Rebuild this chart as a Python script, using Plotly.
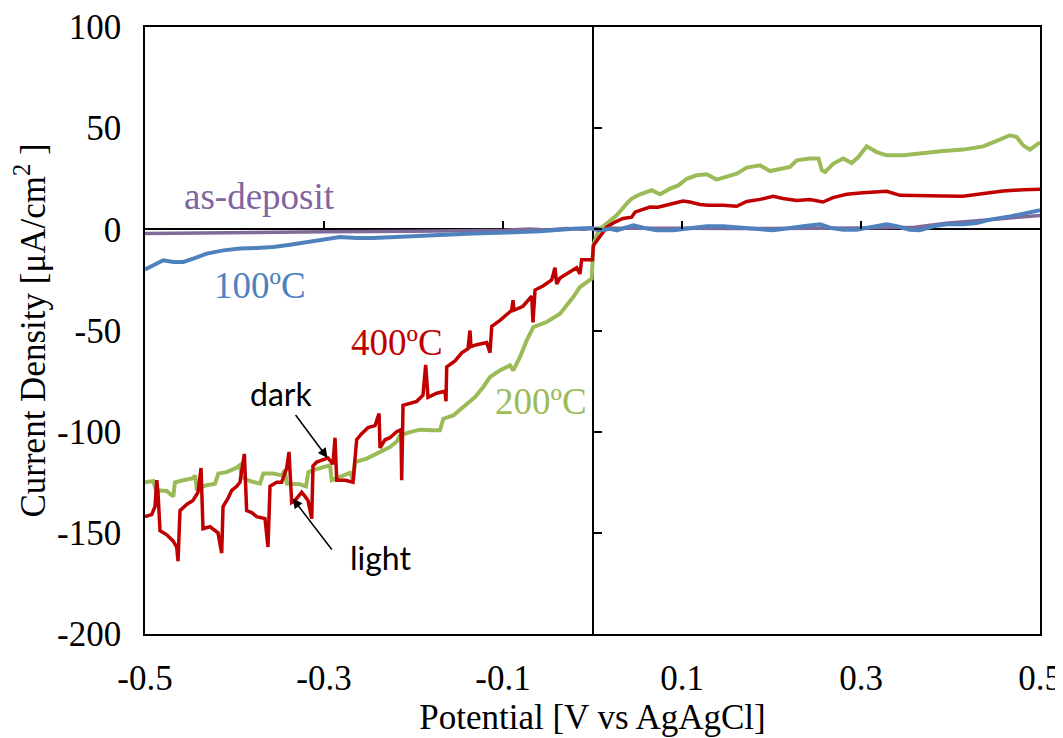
import plotly.graph_objects as go

# ---- data (Potential V vs Ag/AgCl, Current density uA/cm2) ----
red_x = [-0.5000,-0.4925,-0.4888,-0.4869,-0.4855,-0.4832,-0.4757,-0.4687,-0.4646,-0.4631,
         -0.4609,-0.4534,-0.4464,-0.4408,-0.4374,-0.4352,-0.4274,-0.4218,-0.4184,-0.4143,
         -0.4128,-0.4073,-0.4031,-0.3975,-0.3939,-0.3890,-0.3864,-0.3808,-0.3752,-0.3659,
         -0.3626,-0.3603,-0.3528,-0.3473,-0.3417,-0.3391,-0.3361,-0.3324,-0.3291,-0.3249,
         -0.3212,-0.3179,-0.3137,-0.3123,-0.3082,-0.3011,-0.2955,-0.2900,-0.2877,-0.2858,
         -0.2760,-0.2676,-0.2635,-0.2579,-0.2508,-0.2430,-0.2385,-0.2374,-0.2318,-0.2263,
         -0.2188,-0.2140,-0.2132,-0.2117,-0.2020,-0.1964,-0.1894,-0.1864,-0.1838,-0.1741,
         -0.1648,-0.1637,-0.1629,-0.1536,-0.1461,-0.1391,-0.1369,-0.1358,-0.1294,-0.1182,
         -0.1145,-0.1126,-0.1034,-0.0959,-0.0903,-0.0888,-0.0877,-0.0777,-0.0679,-0.0665,
         -0.0642,-0.0553,-0.0456,-0.0419,-0.0400,-0.0363,-0.0251,-0.0177,-0.0140,-0.0121,
         -0.0028,0.0000,
         0.0010,0.0103,0.0159,0.0251,0.0341,0.0438,0.0475,0.0531,0.0642,0.0732,0.0899,
         0.1011,0.1089,0.1201,0.1291,0.1458,0.1611,0.1723,0.1872,0.2017,0.2128,0.2282,
         0.2430,0.2575,0.2687,0.2840,0.3022,0.3287,0.3436,0.3659,0.3916,0.4140,0.4363,
         0.4587,0.4810,0.5000]
red_y = [-142,-141,-137,-124,-130,-149,-151,-154,-157,-164,
         -139,-136,-134,-130,-118,-148,-147,-149,-150,-160,
         -137,-133,-129,-127,-125,-111,-139,-140,-142,-143,
         -157,-127,-125,-125,-118,-110,-135,-134,-132,-130,
         -132,-134,-143,-117,-115,-114,-113,-116,-103,-124,
         -124,-125,-104,-101,-98,-97,-91,-108,-104,-103,
         -100,-99,-124,-87,-86,-85,-82,-67,-83,-81,
         -80,-85,-68,-65,-61,-59,-50,-58,-57,-56,
         -61,-48,-45,-42,-40,-35,-40,-38,-33,-46,
         -30,-28,-25,-19,-27,-24,-21,-19,-22,-15,
         -15,-15,
         -8,-2,1.1,3.6,5.4,6.0,8.5,9.4,11.0,10.9,13.0,
         14.0,13.5,12.3,11.9,11.9,11.4,13.8,14.8,16.3,15.2,14.3,
         14.7,13.5,15.7,17.3,18.1,18.8,16.8,16.5,16.5,16.3,17.6,
         18.9,19.6,19.8]

green_x = [-0.5000,-0.4907,-0.4877,-0.4832,-0.4757,-0.4684,-0.4665,-0.4572,-0.4460,-0.4441,
           -0.4422,-0.4311,-0.4218,-0.4181,-0.4087,-0.3975,-0.3939,-0.3920,-0.3827,-0.3715,
           -0.3678,-0.3566,-0.3473,-0.3436,-0.3416,-0.3268,-0.3231,-0.3201,-0.3175,-0.3120,
           -0.3008,-0.2933,-0.2914,-0.2784,-0.2709,-0.2673,-0.2654,-0.2523,-0.2411,-0.2263,
           -0.2188,-0.2151,-0.2039,-0.1927,-0.1779,-0.1704,-0.1667,-0.1555,-0.1444,-0.1313,
           -0.1220,-0.1145,-0.1034,-0.0922,-0.0885,-0.0810,-0.0735,-0.0661,-0.0512,-0.0363,
           -0.0215,-0.0140,-0.0009,
           0.0009,0.0065,0.0159,0.0270,0.0382,0.0438,0.0531,0.0661,0.0754,0.0866,0.0959,
           0.1053,0.1164,0.1276,0.1388,0.1499,0.1611,0.1723,0.1872,0.1983,0.2132,0.2207,
           0.2282,0.2430,0.2525,0.2563,0.2598,0.2691,0.2802,0.2896,0.2970,0.3064,0.3175,
           0.3287,0.3473,0.3696,0.3920,0.4143,0.4366,0.4516,0.4665,0.4740,0.4813,0.4888,
           0.5000]
green_y = [-125,-124.4,-129,-129,-129.3,-132,-125,-124,-123,-121.6,
           -128,-126.5,-125.7,-120.7,-120,-117.8,-116.6,-122.4,-124.4,-125.7,
           -120.7,-120.7,-121.6,-119,-125.7,-126,-126.5,-127,-120,-119,
           -117.5,-116.6,-124,-121.6,-120.4,-124,-115,-113.3,-110.8,-107.6,
           -105,-101.8,-100.2,-99,-99.3,-99.3,-93.6,-92,-87.8,-82.9,
           -77.9,-73,-69.7,-67.2,-69.7,-63.1,-54.9,-48.3,-45.8,-41.7,
           -33.5,-28.5,-24.4,
           -8,-0.5,2.8,6.9,12.7,15.2,17.3,19.3,17.3,20.1,21.7,
           25,26.7,27.2,24.6,25.9,27.5,30.5,31.6,28.8,30.3,30.8,
           34.1,35,35,29.2,28.3,32.5,35,32.8,35.7,41,38.2,
           36.6,36.6,37.7,38.7,39.4,41,43.7,46.5,45.6,41.5,39.4,
           43]

blue_x = [-0.5000,-0.4907,-0.4796,-0.4684,-0.4572,-0.4460,-0.4311,-0.4125,-0.3939,-0.3752,
          -0.3566,-0.3380,-0.3193,-0.3008,-0.2821,-0.2635,-0.2449,-0.2076,-0.1704,-0.1332,
          -0.0959,-0.0587,-0.0215,-0.0028,
          0.0084,0.0196,0.0270,0.0456,0.0568,0.0717,0.0903,0.1089,0.1276,0.1461,0.1648,
          0.2020,0.2355,0.2542,0.2654,0.2802,0.2952,0.3101,0.3287,0.3399,0.3547,0.3659,
          0.3808,0.3958,0.4143,0.4293,0.4441,0.4665,0.4851,0.5000]
blue_y = [-19.8,-17.5,-15.3,-16.1,-16.1,-14.5,-12,-10.4,-9.5,-9.2,
          -8.7,-7.6,-6.3,-4.6,-3.8,-4.3,-4.3,-3.5,-2.6,-2.1,
          -1.6,-1.0,0.3,0.6,
          -0.5,0.3,-0.5,2.0,0.8,-0.5,-0.5,0.3,1.5,1.5,0.8,
          -0.5,1.5,2.5,0.8,-0.2,-0.2,0.8,2.5,1.5,-0.2,-0.5,
          1.5,2.5,2.5,3.1,4.8,6.4,8.1,9.4]

purple_x = [-0.50,-0.45,-0.40,-0.30,-0.20,-0.10,-0.07,-0.05,-0.03,-0.01,0.00,
            0.05,0.10,0.15,0.20,0.25,0.30,0.36,0.395,0.42,0.45,0.475,0.50]
purple_y = [-2.1,-1.8,-1.5,-1.2,-0.9,-0.5,0.2,-0.3,0.4,0.1,0.5,
            0.3,0.5,0.4,0.3,0.5,0.6,1.0,3.0,3.8,5.0,6.0,6.9]

x_ticks = [-0.5, -0.3, -0.1, 0.1, 0.3, 0.5]
y_ticks = [-200, -150, -100, -50, 0, 50, 100]

labels = [
    ("as-deposit", -0.372, 16, "#8064A2"),
    ("100ºC", -0.372, -28, "#4F81BD"),
    ("400ºC", -0.218, -56, "#C00000"),
    ("200ºC", -0.057, -85, "#9BBB59"),
]

RED = "#C00000"; GREEN = "#9BBB59"; BLUE = "#4F81BD"; PURPLE = "#7F6A9A"
SERIF = "Liberation Serif"
TICK = 35

fig = go.Figure()
fig.add_trace(go.Scatter(x=purple_x, y=purple_y, mode="lines", line=dict(color=PURPLE, width=3.5), name="as-deposit"))
fig.add_trace(go.Scatter(x=green_x, y=green_y, mode="lines", line=dict(color=GREEN, width=4), name="200ºC"))
fig.add_trace(go.Scatter(x=red_x, y=red_y, mode="lines", line=dict(color=RED, width=3.5), name="400ºC"))
fig.add_trace(go.Scatter(x=blue_x, y=blue_y, mode="lines", line=dict(color=BLUE, width=4), name="100ºC"))
# invisible trace for the crossing axes
fig.add_trace(go.Scatter(x=[0], y=[0], xaxis="x2", yaxis="y2", mode="markers",
                         marker=dict(opacity=0), hoverinfo="skip", showlegend=False))

for text, x, y, c in labels:
    fig.add_annotation(x=x, y=y, text=text, showarrow=False,
                       font=dict(family=SERIF, size=37, color=c))

fig.add_annotation(x=-0.296, y=-113, ax=-0.333, ay=-91, axref="x", ayref="y",
                   text="", showarrow=True, arrowhead=2, arrowsize=1.3, arrowwidth=1.5, arrowcolor="black")
fig.add_annotation(x=-0.335, y=-133, ax=-0.29, ay=-159, axref="x", ayref="y",
                   text="", showarrow=True, arrowhead=2, arrowsize=1.3, arrowwidth=1.5, arrowcolor="black")
fig.add_annotation(x=-0.348, y=-81, text="dark", showarrow=False,
                   font=dict(family="Lato", size=32, color="black"))
fig.add_annotation(x=-0.236, y=-162, text="light", showarrow=False,
                   font=dict(family="Lato", size=32, color="black"))

# the page body adds an 8px offset; margins compensate so the plot box lands at 145..1040 x 27..634
fig.update_layout(
    width=1063, height=738,
    margin=dict(l=137, r=31, t=19, b=112),
    paper_bgcolor="white", plot_bgcolor="white",
    showlegend=False,
    xaxis=dict(range=[-0.5, 0.5], tickvals=x_ticks, ticktext=[f"{v:g}" for v in x_ticks],
               automargin=False,
               showgrid=False, zeroline=True, zerolinecolor="black", zerolinewidth=1.5,
               showline=True, mirror=True, linecolor="black", linewidth=1.5, ticks="",
               ticklabelstandoff=12,
               tickfont=dict(family=SERIF, size=TICK, color="black"),
               title=dict(text="Potential [V vs AgAgCl]", font=dict(family=SERIF, size=TICK, color="black"), standoff=8)),
    yaxis=dict(range=[-200, 100], tickvals=y_ticks, ticktext=[f"{v:g}" for v in y_ticks],
               automargin=False,
               showgrid=False, zeroline=True, zerolinecolor="black", zerolinewidth=1.5,
               showline=True, mirror=True, linecolor="black", linewidth=1.5, ticks="",
               tickfont=dict(family=SERIF, size=TICK, color="black"), ticklabelstandoff=15,
               title=dict(text="Current Density [μA/cm<sup>2</sup> ]", font=dict(family=SERIF, size=TICK, color="black"), standoff=8)),
    xaxis2=dict(range=[-0.5, 0.5], overlaying="x", anchor="free", position=2/3, side="bottom",
                tickvals=x_ticks, ticks="inside", ticklen=8, tickwidth=1.5, tickcolor="black",
                showticklabels=False, showgrid=False, zeroline=False, showline=False),
    yaxis2=dict(range=[-200, 100], overlaying="y", anchor="free", position=0.5, side="left",
                tickvals=y_ticks, ticks="inside", ticklen=8, tickwidth=1.5, tickcolor="black",
                showticklabels=False, showgrid=False, zeroline=False, showline=False),
)

fig.write_html("out.html")
